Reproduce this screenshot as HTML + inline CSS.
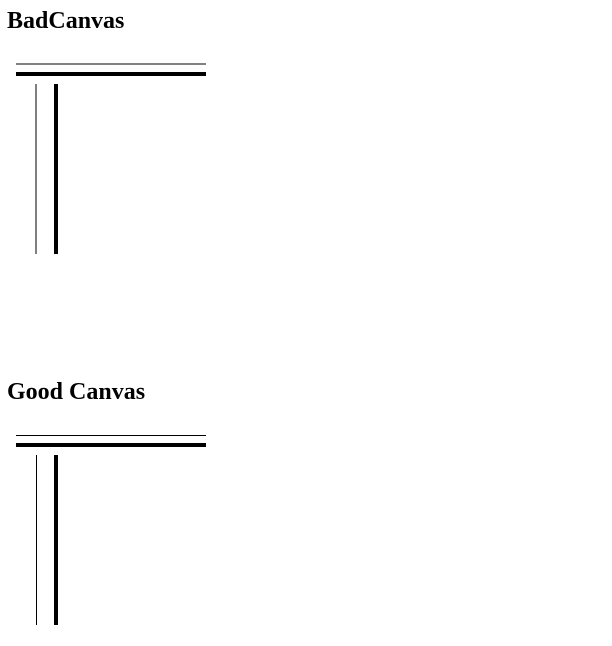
<!DOCTYPE html>
<html><head><meta charset="utf-8"><style>
body{margin:0;width:612px;height:646px;background:#fff;position:relative;font-family:"Liberation Serif",serif;}
h2{position:absolute;left:7px;margin:0;font-size:24px;font-weight:bold;line-height:26px;}
.l{position:absolute;}
</style></head><body>
<h2 style="top:8px">BadCanvas</h2>
<div>
<div class="l" style="left:16px;top:63px;width:190px;height:2px;background:#808080"></div>
<div class="l" style="left:16px;top:72px;width:190px;height:4px;background:#000"></div>
<div class="l" style="left:35px;top:84px;width:2px;height:170px;background:#808080"></div>
<div class="l" style="left:54px;top:84px;width:4px;height:170px;background:#000"></div>
</div>
<h2 style="top:379px">Good Canvas</h2>
<div>
<div class="l" style="left:16px;top:435px;width:190px;height:1px;background:#000"></div>
<div class="l" style="left:16px;top:443px;width:190px;height:4px;background:#000"></div>
<div class="l" style="left:36px;top:455px;width:1px;height:170px;background:#000"></div>
<div class="l" style="left:54px;top:455px;width:4px;height:170px;background:#000"></div>
</div>
</body></html>
